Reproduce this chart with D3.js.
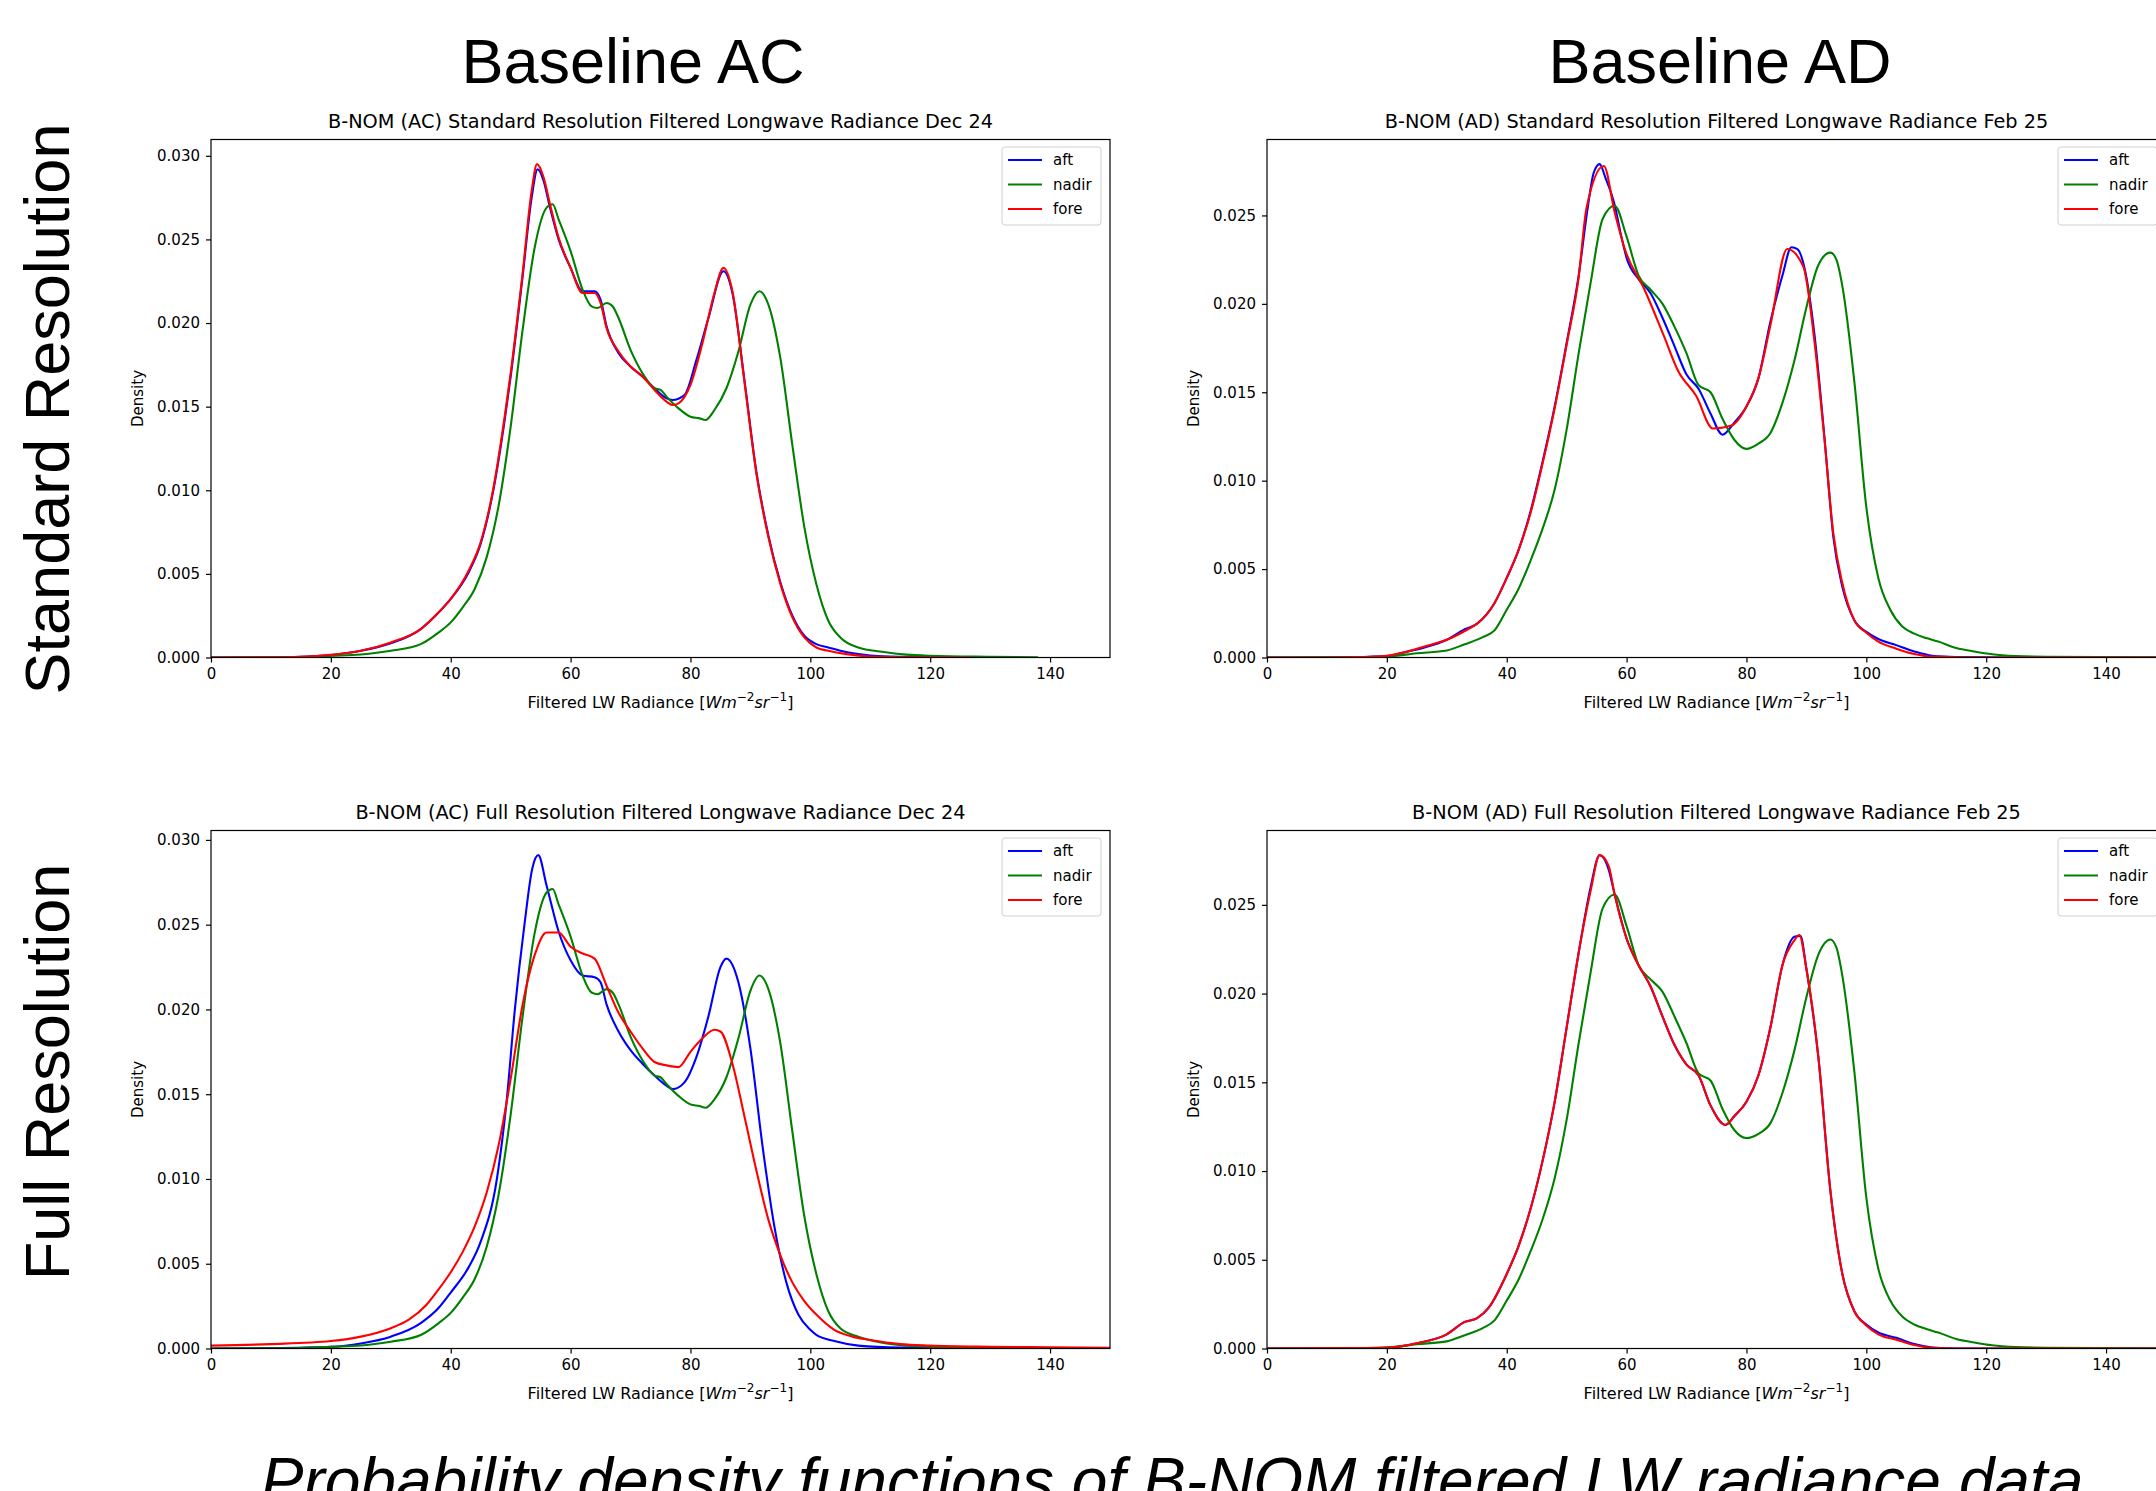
<!DOCTYPE html>
<html>
<head>
<meta charset="utf-8">
<script src="https://cdn.jsdelivr.net/npm/d3@7/dist/d3.min.js"></script>
<style>
    body { margin: 0; background: #fff; overflow: hidden; }
    svg { display: block; }
    .tick text { font-family: "DejaVu Sans", sans-serif; font-size: 15px; fill: #000; }
    .tick line { stroke: #000; stroke-width: 1.2; }
</style>
</head>
<body>
<div id="chart"></div>
<script>

// ---- values: [radiance, density] ----

const seriesNames = ["aft", "nadir", "fore"];
const seriesColors = ["blue", "green", "red"];

const xTickValues = [0, 20, 40, 60, 80, 100, 120, 140];
const yTicksAC = [0, 0.005, 0.010, 0.015, 0.020, 0.025, 0.030];
const yTicksAD = [0, 0.005, 0.010, 0.015, 0.020, 0.025];

const acStdAft = [[0,0],[10,0.00001],[15,0.00004],[20,0.00015],[25,0.0004],[30,0.00085],[35,0.0017],[38,0.0027],[40,0.0035],[43,0.0051],[45,0.0068],[47,0.0098],[49,0.0142],[50,0.0168],[52,0.0228],[53.5,0.0275],[54.5,0.0292],[55.5,0.0285],[56.5,0.0270],[58,0.0250],[60,0.0233],[62,0.0219],[64,0.0219],[65,0.0214],[66,0.0198],[68,0.0182],[70,0.0174],[72,0.0168],[74,0.0161],[76,0.0155],[77,0.0154],[79,0.0157],[81,0.0178],[83,0.0203],[85.5,0.0231],[87,0.0218],[89,0.0166],[91,0.0111],[93,0.0073],[95,0.0045],[97,0.0025],[99,0.0013],[101,0.0008],[103,0.0006],[105,0.0004],[108,0.0002],[112,0.00007],[120,0.00002],[128,0]];
const acStdNadir = [[0,0],[10,0.00001],[15,0.00003],[20,0.0001],[25,0.00018],[30,0.0004],[35,0.0008],[38,0.0015],[40,0.0021],[42,0.0030],[44,0.0041],[46,0.0060],[48,0.0091],[50,0.0138],[52,0.0196],[54,0.0245],[56,0.0269],[57,0.0271],[58,0.0262],[60,0.0243],[62,0.0220],[63.5,0.0210],[64.5,0.0209],[66,0.0212],[67,0.0210],[68,0.0203],[70,0.0184],[72,0.0170],[74,0.0161],[75,0.0160],[76,0.0156],[78,0.0149],[80,0.0144],[81.5,0.0143],[82.5,0.0142],[84,0.0148],[86,0.0161],[88,0.0183],[90,0.0211],[91.5,0.0219],[93,0.0211],[95,0.0179],[97,0.0127],[99,0.0078],[101,0.0044],[103,0.0022],[105,0.0012],[108,0.0006],[112,0.00034],[116,0.00017],[120,0.0001],[130,0.00004],[138,0.00001]];
const acStdFore = [[0,0],[10,0.00001],[15,0.00004],[20,0.00016],[25,0.0004],[30,0.0009],[35,0.0017],[38,0.0027],[40,0.0035],[43,0.0052],[45,0.0069],[47,0.0099],[49,0.0144],[50,0.017],[52,0.023],[53.5,0.0279],[54.4,0.0295],[55.5,0.0287],[56.5,0.0272],[58,0.0251],[60,0.0233],[62,0.0218],[64,0.0218],[65,0.0212],[66,0.0197],[68,0.0183],[70,0.0174],[72,0.0168],[74,0.0160],[76,0.0153],[77,0.0151],[78,0.0152],[80,0.0163],[82,0.0188],[84,0.0218],[85.5,0.0233],[87,0.0219],[89,0.0165],[91,0.0110],[93,0.0072],[95,0.0044],[97,0.0024],[99,0.0012],[101,0.0006],[103,0.0004],[106,0.0002],[110,0.00006],[118,0.00001],[127,0]];

const acFullAft = [[0,0],[10,0.00002],[20,0.0001],[25,0.0003],[30,0.0007],[35,0.0015],[38,0.0024],[40,0.0033],[43,0.0048],[45,0.0063],[47.7,0.0100],[49.3,0.0145],[50.7,0.0200],[52.3,0.0250],[53.6,0.0283],[54.6,0.0291],[56,0.0273],[58,0.0246],[60,0.0229],[62,0.0220],[64,0.0219],[65,0.0216],[66,0.0203],[68,0.0187],[70,0.0176],[72,0.0168],[74,0.0161],[76,0.0155],[77,0.0153],[79,0.0157],[81,0.0172],[83,0.0196],[85,0.0225],[86,0.0230],[88,0.0216],[90,0.0177],[92,0.0120],[94,0.0072],[96,0.0039],[98,0.0020],[100,0.0011],[101,0.0008],[104,0.00044],[108,0.00017],[115,0.00005],[130,0.00001],[150,0]];
const acFullNadir = [[0,0],[10,0.00001],[15,0.00003],[20,0.0001],[25,0.00018],[30,0.0004],[35,0.0008],[38,0.0015],[40,0.0021],[42,0.0030],[44,0.0041],[46,0.0060],[48,0.0091],[50,0.0138],[52,0.0196],[54,0.0245],[56,0.0269],[57,0.0271],[58,0.0262],[60,0.0243],[62,0.0220],[63.5,0.0210],[64.5,0.0209],[66,0.0212],[67,0.0210],[68,0.0203],[70,0.0184],[72,0.0170],[74,0.0161],[75,0.0160],[76,0.0156],[78,0.0149],[80,0.0144],[81.5,0.0143],[82.5,0.0142],[84,0.0147],[86,0.0160],[88,0.0183],[90,0.0211],[91.5,0.0220],[93,0.0212],[95,0.0180],[97,0.0128],[99,0.0078],[101,0.0044],[103,0.0022],[105,0.0012],[108,0.0007],[112,0.00034],[116,0.00017],[120,0.0001],[130,0.00004],[150,0.00001]];
const acFullFore = [[0,0.00017],[10,0.00026],[20,0.00044],[25,0.0007],[30,0.0012],[33,0.0017],[36,0.0026],[38,0.0035],[40,0.0045],[42,0.0057],[44,0.0072],[46,0.0092],[48,0.0120],[50,0.0159],[52,0.0203],[54,0.0232],[56,0.02454],[58,0.02454],[60,0.0237],[62,0.0233],[64,0.0230],[66,0.0214],[68,0.0198],[70,0.0187],[72,0.0177],[74,0.0169],[76,0.0167],[78,0.0166],[80,0.0175],[82,0.0183],[84,0.0188],[85,0.0187],[87,0.0168],[89,0.0137],[91,0.0105],[93,0.0076],[95,0.0055],[97,0.0039],[99,0.0028],[101,0.0020],[104,0.0011],[107,0.0007],[110,0.0005],[115,0.00026],[120,0.00017],[130,0.0001],[140,0.00007],[150,0.00004]];

const adStdAft = [[0,0],[10,0],[15,0.00002],[20,0.00008],[23,0.0003],[26,0.00054],[30,0.0010],[33,0.0016],[35,0.0019],[38,0.0031],[40,0.0045],[42,0.0061],[44,0.0083],[46,0.0111],[48,0.0142],[50,0.0178],[52,0.0216],[53.5,0.0254],[54.5,0.0274],[55.5,0.0279],[56.5,0.0271],[58,0.0256],[59,0.0240],[60,0.0226],[62,0.0214],[64,0.0206],[66,0.0192],[68,0.0176],[70,0.0160],[72,0.0152],[74,0.0138],[76,0.0126],[78,0.0133],[80,0.0142],[82,0.0158],[84,0.0190],[86,0.0216],[87.5,0.0232],[88.5,0.0231],[89.7,0.0220],[91.3,0.0184],[93,0.0125],[94.5,0.0068],[96,0.0040],[98,0.0021],[100,0.00145],[102,0.00105],[105,0.0007],[108,0.00034],[111,0.0001],[115,0.00003],[125,0],[155,0]];
const adStdNadir = [[0,0],[15,0.00002],[20,0.00005],[25,0.00024],[30,0.0004],[33,0.00075],[36,0.00115],[38,0.00155],[40,0.0027],[42,0.0039],[44,0.0055],[46,0.0073],[48,0.0095],[50,0.0129],[52,0.0172],[54,0.0212],[56,0.0248],[58,0.02555],[60,0.0238],[62,0.0216],[64,0.0208],[66,0.0200],[68,0.0187],[70,0.0172],[72,0.0154],[74,0.0150],[76,0.0135],[78,0.0123],[80,0.0118],[82,0.0121],[84,0.0127],[86,0.0144],[88,0.0168],[90,0.0198],[92,0.0222],[94,0.0229],[95,0.0225],[96,0.0210],[98,0.0156],[100,0.0085],[102,0.0045],[104,0.0027],[106,0.00175],[108,0.00135],[110,0.0011],[112,0.0009],[115,0.00054],[118,0.00034],[121,0.00018],[125,0.00008],[130,0.00004],[155,0]];
const adStdFore = [[0,0],[10,0],[15,0.00002],[20,0.0001],[23,0.0003],[26,0.0006],[30,0.0010],[33,0.0015],[35,0.0019],[38,0.0031],[40,0.0045],[42,0.0061],[44,0.0082],[46,0.0110],[48,0.0141],[50,0.0177],[52,0.0215],[53.3,0.0254],[56.2,0.0278],[58,0.0252],[59.8,0.0230],[63,0.0208],[66.2,0.0182],[68.6,0.0162],[71.6,0.0148],[74.4,0.01295],[77.4,0.0131],[80,0.0142],[82,0.0158],[84,0.0188],[86.8,0.0231],[89.5,0.0221],[91.3,0.0180],[93,0.0124],[94.5,0.0070],[96,0.0042],[98,0.0021],[100,0.0014],[102,0.0009],[105,0.0005],[108,0.0002],[111,0.00005],[120,0],[155,0]];

const adFullAft = [[0,0],[15,0.00002],[20,0.00004],[25,0.0003],[30,0.0008],[33,0.0015],[35,0.0017],[37,0.0023],[40,0.0042],[42,0.0058],[44,0.0079],[46,0.0106],[48,0.0139],[50,0.0181],[52,0.0223],[54,0.0260],[55.5,0.0278],[57,0.0270],[58,0.0256],[60,0.0231],[62,0.0216],[64,0.0204],[66,0.0187],[68,0.0171],[70,0.0160],[72,0.0154],[74,0.0137],[76.5,0.0126],[78,0.0131],[80,0.0139],[82,0.0154],[84,0.0181],[86,0.0216],[88,0.0232],[89,0.02325],[90,0.0214],[92,0.0164],[94,0.0089],[96,0.0042],[98,0.0021],[100,0.00135],[102,0.0009],[105,0.0006],[108,0.00025],[111,0.00006],[115,0],[155,0]];
const adFullNadir = [[0,0],[15,0.00002],[20,0.00005],[25,0.00024],[30,0.0004],[33,0.00075],[36,0.00115],[38,0.0016],[40,0.0027],[42,0.0039],[44,0.0055],[46,0.0073],[48,0.0096],[50,0.0129],[52,0.0172],[54,0.0212],[56,0.0248],[58,0.02558],[60,0.0238],[62,0.0216],[64,0.0208],[66,0.0201],[68,0.0187],[70,0.0172],[72,0.0155],[74,0.0151],[76,0.0135],[78,0.0123],[80,0.01186],[82,0.0121],[84,0.0127],[86,0.0144],[88,0.0168],[90,0.0198],[92,0.0222],[94,0.02305],[95,0.0226],[96,0.0210],[98,0.0156],[100,0.0085],[102,0.0045],[104,0.0027],[106,0.0018],[108,0.00135],[110,0.0011],[112,0.0009],[115,0.00054],[118,0.00034],[121,0.00018],[125,0.00008],[130,0.00004],[155,0]];
const adFullFore = [[0,0],[15,0.00002],[20,0.00005],[25,0.0003],[30,0.0008],[33,0.0015],[35,0.0017],[37,0.0023],[40,0.0042],[42,0.0058],[44,0.0079],[46,0.0106],[48,0.0139],[50,0.0181],[52,0.0223],[54,0.0258],[55.5,0.0278],[57,0.0272],[58,0.0256],[60,0.0231],[62,0.0216],[64,0.0204],[66,0.0187],[68,0.0171],[70,0.0160],[72,0.0154],[74,0.0137],[76.5,0.0126],[78,0.0131],[80,0.0139],[82,0.0154],[84,0.0181],[86,0.0216],[88,0.0230],[88.8,0.0233],[90,0.0214],[92,0.0164],[94,0.0089],[96,0.0042],[98,0.0021],[100,0.0013],[102,0.0008],[105,0.0005],[108,0.0002],[111,0.00004],[115,0],[155,0]];


/* * * * * * * * * * * * * *
*       DensityPanel       *
* * * * * * * * * * * * * */

class DensityPanel {

    constructor(svg, left, top, title, yTicks, series) {
        this.svg = svg;
        this.left = left;
        this.top = top;
        this.title = title;
        this.yTicks = yTicks;
        this.series = series;

        this.width = 899;
        this.height = 518;

        this.initVis();
    }

    initVis() {
        let vis = this;

        vis.g = vis.svg.append("g")
            .attr("transform", `translate(${vis.left}, ${vis.top})`);

        vis.x = d3.scaleLinear()
            .domain([0, 150])
            .range([0, vis.width]);

        // matplotlib style: 5% headroom over the tallest curve
        let yMax = d3.max(vis.series, s => d3.max(s, d => d[1]));
        vis.y = d3.scaleLinear()
            .domain([0, yMax * 1.05])
            .range([vis.height, 0]);

        let clipId = "clip-" + Math.round(vis.left) + "-" + Math.round(vis.top);
        vis.g.append("clipPath")
            .attr("id", clipId)
            .append("rect")
            .attr("width", vis.width)
            .attr("height", vis.height);

        let line = d3.line()
            .x(d => vis.x(d[0]))
            .y(d => vis.y(d[1]))
            .curve(d3.curveMonotoneX);

        vis.g.append("g")
            .attr("clip-path", `url(#${clipId})`)
            .selectAll(".kde")
            .data(vis.series)
            .enter().append("path")
            .attr("class", "kde")
            .attr("fill", "none")
            .attr("stroke", (d, i) => seriesColors[i])
            .attr("stroke-width", 2.1)
            .attr("stroke-linejoin", "round")
            .attr("d", line);

        // axes
        vis.g.append("g")
            .attr("transform", `translate(0, ${vis.height})`)
            .call(d3.axisBottom(vis.x).tickValues(xTickValues).tickSize(5).tickPadding(6).tickFormat(d3.format("d")))
            .call(g => g.select(".domain").remove());

        vis.g.append("g")
            .call(d3.axisLeft(vis.y).tickValues(vis.yTicks).tickSize(5).tickPadding(6).tickFormat(d3.format(".3f")))
            .call(g => g.select(".domain").remove());

        // frame
        vis.g.append("rect")
            .attr("width", vis.width)
            .attr("height", vis.height)
            .attr("fill", "none")
            .attr("stroke", "#000")
            .attr("stroke-width", 1.2);

        vis.g.append("text")
            .attr("x", vis.width / 2)
            .attr("y", -12)
            .attr("text-anchor", "middle")
            .style("font-family", "DejaVu Sans, sans-serif")
            .style("font-size", "19.3px")
            .text(vis.title);

        vis.g.append("text")
            .attr("transform", `translate(-68, ${vis.height / 2}) rotate(-90)`)
            .attr("text-anchor", "middle")
            .style("font-family", "DejaVu Sans, sans-serif")
            .style("font-size", "15px")
            .text("Density");

        let xl = vis.g.append("text")
            .attr("x", vis.width / 2)
            .attr("y", vis.height + 50)
            .attr("text-anchor", "middle")
            .style("font-family", "DejaVu Sans, sans-serif")
            .style("font-size", "16px");
        xl.append("tspan").text("Filtered LW Radiance [");
        xl.append("tspan").style("font-style", "italic").text("Wm");
        xl.append("tspan").attr("baseline-shift", "super").style("font-size", "12px").text("\u22122");
        xl.append("tspan").style("font-style", "italic").text("sr");
        xl.append("tspan").attr("baseline-shift", "super").style("font-size", "12px").text("\u22121");
        xl.append("tspan").text("]");

        vis.drawLegend();
    }

    drawLegend() {
        let vis = this;

        let legend = vis.g.append("g")
            .attr("transform", `translate(${vis.width - 108}, 7.5)`);

        legend.append("rect")
            .attr("width", 99)
            .attr("height", 78)
            .attr("rx", 3)
            .attr("fill", "#fff")
            .attr("fill-opacity", 0.8)
            .attr("stroke", "#d0d0d0");

        let rows = legend.selectAll(".row")
            .data(seriesNames)
            .enter().append("g")
            .attr("class", "row")
            .attr("transform", (d, i) => `translate(0, ${13 + i * 24.5})`);

        rows.append("line")
            .attr("x1", 6)
            .attr("x2", 40)
            .attr("stroke", (d, i) => seriesColors[i])
            .attr("stroke-width", 2.1);

        rows.append("text")
            .attr("x", 51)
            .attr("dy", "0.35em")
            .style("font-family", "DejaVu Sans, sans-serif")
            .style("font-size", "15px")
            .text(d => d);
    }
}


let svg = d3.select("#chart").append("svg")
    .attr("width", 2156)
    .attr("height", 1491);

svg.append("rect").attr("width", 2156).attr("height", 1491).attr("fill", "#fff");

new DensityPanel(svg, 211, 139.5, "B-NOM (AC) Standard Resolution Filtered Longwave Radiance Dec 24", yTicksAC, [acStdAft, acStdNadir, acStdFore]);
new DensityPanel(svg, 1267, 139.5, "B-NOM (AD) Standard Resolution Filtered Longwave Radiance Feb 25", yTicksAD, [adStdAft, adStdNadir, adStdFore]);
new DensityPanel(svg, 211, 830.5, "B-NOM (AC) Full Resolution Filtered Longwave Radiance Dec 24", yTicksAC, [acFullAft, acFullNadir, acFullFore]);
new DensityPanel(svg, 1267, 830.5, "B-NOM (AD) Full Resolution Filtered Longwave Radiance Feb 25", yTicksAD, [adFullAft, adFullNadir, adFullFore]);

// big column / row headings and caption
const bigFont = "Liberation Sans, Arial, sans-serif";

svg.selectAll(".colHead")
    .data([["Baseline AC", 633], ["Baseline AD", 1720]])
    .enter().append("text")
    .attr("class", "colHead")
    .attr("x", d => d[1])
    .attr("y", 83)
    .attr("text-anchor", "middle")
    .style("font-family", bigFont)
    .style("font-size", "63px")
    .text(d => d[0]);

svg.selectAll(".rowHead")
    .data([["Standard Resolution", 409], ["Full Resolution", 1072]])
    .enter().append("text")
    .attr("class", "rowHead")
    .attr("transform", d => `translate(69, ${d[1]}) rotate(-90)`)
    .attr("text-anchor", "middle")
    .style("font-family", bigFont)
    .style("font-size", "63px")
    .text(d => d[0]);

// caption runs off the bottom edge, as in the original slide
svg.append("text")
    .attr("x", 1172)
    .attr("y", 1503)
    .attr("text-anchor", "middle")
    .style("font-family", bigFont)
    .style("font-style", "italic")
    .style("font-size", "64px")
    .text("Probability density functions of B-NOM filtered LW radiance data");

</script>
</body>
</html>
